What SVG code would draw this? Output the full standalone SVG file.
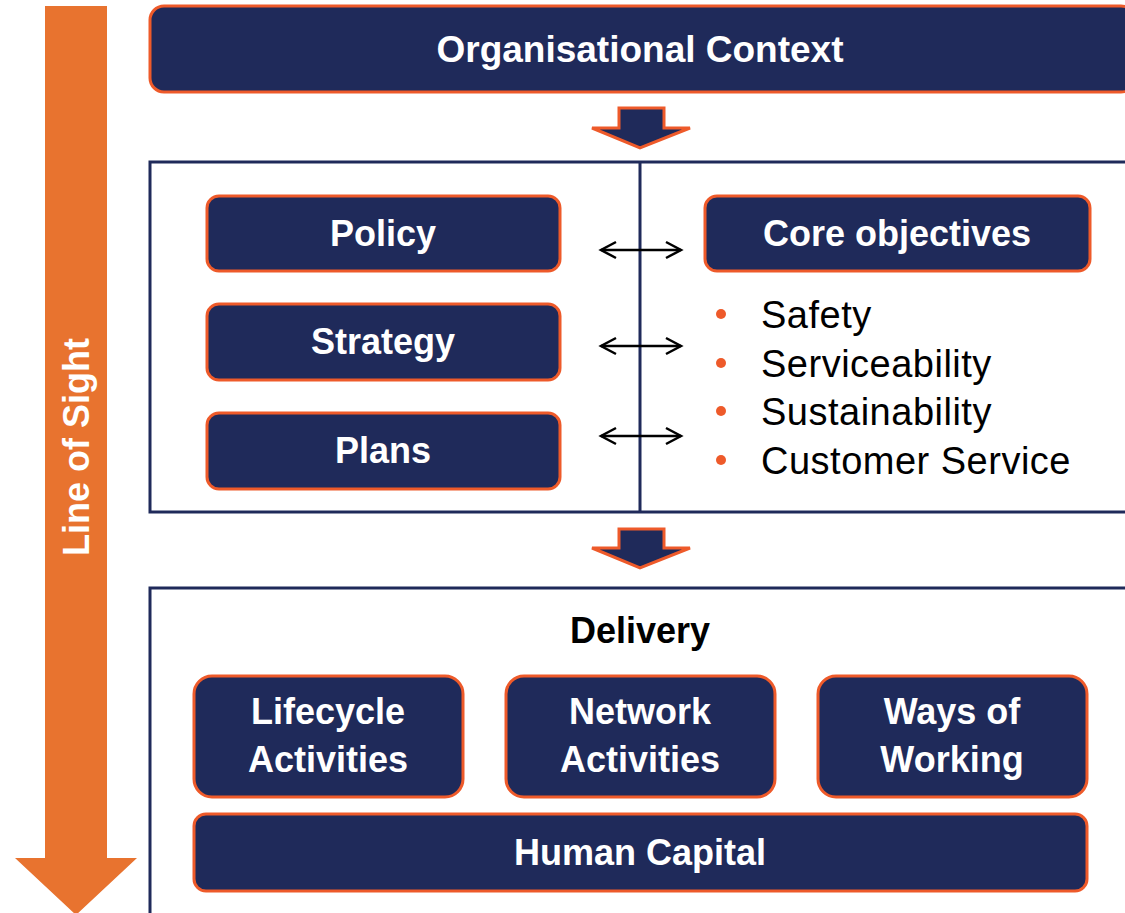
<svg xmlns="http://www.w3.org/2000/svg" width="1125" height="913" viewBox="0 0 1125 913">
<style>
.box{fill:#1F2A5A;stroke:#EE5A2A;stroke-width:3}
.frame{fill:#fff;stroke:#1F2A5A;stroke-width:3}
.lbl{font-family:"Liberation Sans",Arial,sans-serif;font-weight:bold;fill:#fff;font-size:36px;text-anchor:middle}
.item{font-family:"Liberation Sans",Arial,sans-serif;fill:#000;font-size:38px;letter-spacing:0.5px}
.dark{font-family:"Liberation Sans",Arial,sans-serif;font-weight:bold;fill:#000;font-size:36px;text-anchor:middle}
.dbl{stroke:#000;stroke-width:2.5;fill:none;marker-start:url(#chev);marker-end:url(#chev)}
.flow{fill:#1F2A5A;stroke:#EE5A2A;stroke-width:3;stroke-linejoin:miter}
.dot{fill:#EE5A2A}
</style>
<defs>
<marker id="chev" viewBox="0 0 20 20" refX="17" refY="10" markerWidth="20" markerHeight="20" markerUnits="userSpaceOnUse" orient="auto-start-reverse">
<path d="M2,2 L17,10 L2,18" fill="none" stroke="#000" stroke-width="2.5"/>
</marker>
</defs>
<rect width="1125" height="913" fill="#fff"/>

<g id="line-of-sight">
<polygon points="45,6 107,6 107,858 137,858 76,915 15,858 45,858" fill="#E8732F"/>
<text class="lbl" x="76" y="447" transform="rotate(-90 76 447)" dy="13">Line of Sight</text>
</g>

<g id="organisational-context">
<rect class="box" x="150" y="6" width="985" height="86" rx="14"/>
<text class="lbl" x="640" y="62" style="font-size:37px">Organisational Context</text>
</g>

<g id="policy-frame">
<rect class="frame" x="150" y="162" width="990" height="350"/>
<line x1="640" y1="162" x2="640" y2="512" stroke="#1F2A5A" stroke-width="3"/>
</g>

<g id="policy">
<rect class="box" x="207" y="196" width="353" height="75" rx="12"/>
<text class="lbl" x="383" y="246">Policy</text>
</g>
<g id="strategy">
<rect class="box" x="207" y="304" width="353" height="76" rx="12"/>
<text class="lbl" x="383" y="354">Strategy</text>
</g>
<g id="plans">
<rect class="box" x="207" y="413" width="353" height="76" rx="12"/>
<text class="lbl" x="383" y="463">Plans</text>
</g>
<g id="core-objectives">
<rect class="box" x="705" y="196" width="385" height="75" rx="12"/>
<text class="lbl" x="897" y="246">Core objectives</text>
</g>

<g id="objectives-list">
<circle class="dot" cx="721" cy="314" r="5"/>
<text class="item" x="761" y="328">Safety</text>
<circle class="dot" cx="721" cy="363" r="5"/>
<text class="item" x="761" y="377">Serviceability</text>
<circle class="dot" cx="721" cy="411" r="5"/>
<text class="item" x="761" y="425">Sustainability</text>
<circle class="dot" cx="721" cy="460" r="5"/>
<text class="item" x="761" y="474">Customer Service</text>
</g>

<g id="delivery-frame">
<rect class="frame" x="150" y="588" width="990" height="340"/>
<text class="dark" x="640" y="643">Delivery</text>
</g>

<g id="lifecycle-activities">
<rect class="box" x="194" y="676" width="269" height="121" rx="18"/>
<text class="lbl" x="328" y="724">Lifecycle</text>
<text class="lbl" x="328" y="772">Activities</text>
</g>
<g id="network-activities">
<rect class="box" x="506" y="676" width="269" height="121" rx="18"/>
<text class="lbl" x="640" y="724">Network</text>
<text class="lbl" x="640" y="772">Activities</text>
</g>
<g id="ways-of-working">
<rect class="box" x="818" y="676" width="269" height="121" rx="18"/>
<text class="lbl" x="952" y="724">Ways of</text>
<text class="lbl" x="952" y="772">Working</text>
</g>
<g id="human-capital">
<rect class="box" x="194" y="814" width="893" height="77" rx="12"/>
<text class="lbl" x="640" y="865">Human Capital</text>
</g>

<g id="connectors">
<polygon class="flow" points="619,108 664,108 664,128 690,128 640,148 592,128 619,128"/>
<polygon class="flow" points="619,529 664,529 664,548 690,548 640,568 592,548 619,548"/>
<line class="dbl" x1="601" y1="250" x2="681" y2="250"/>
<line class="dbl" x1="601" y1="346" x2="681" y2="346"/>
<line class="dbl" x1="601" y1="436" x2="681" y2="436"/>
</g>
</svg>
